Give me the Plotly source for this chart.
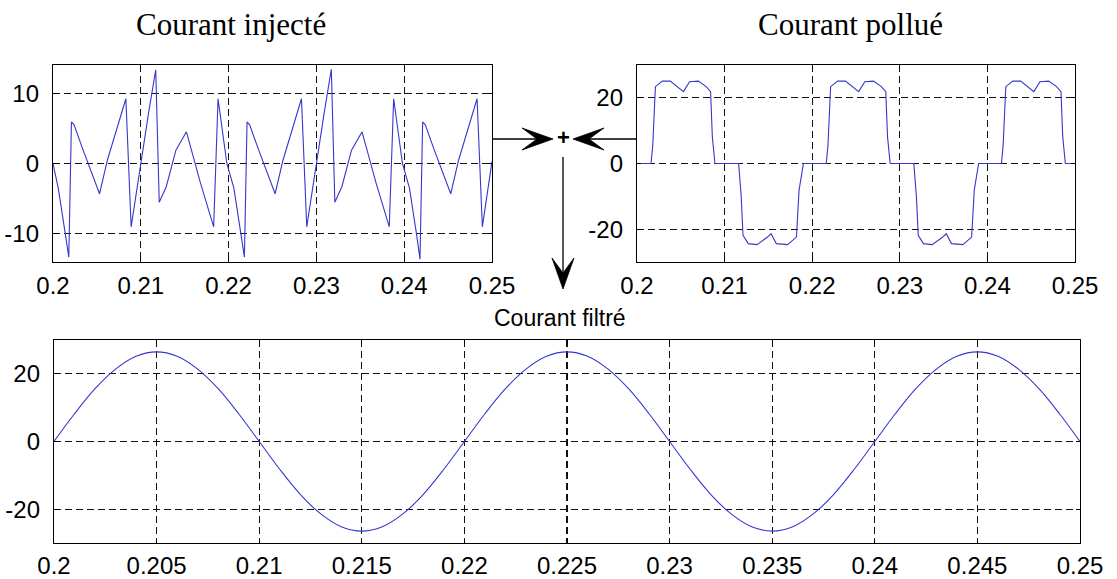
import plotly.graph_objects as go

W, H = 1117, 579

# ---------------- data ----------------
t_inj = [0.2000, 0.2006, 0.2014, 0.2018, 0.2021, 0.2024, 0.2034, 0.2053, 0.2062, 0.2083, 0.2089,
         0.2099, 0.2109, 0.2117, 0.2121, 0.2129, 0.2140, 0.2152, 0.2168, 0.2183, 0.2188, 0.2198,
         0.2206, 0.2214, 0.2218, 0.2221, 0.2224, 0.2234, 0.2253, 0.2262, 0.2283, 0.2289, 0.2299,
         0.2309, 0.2317, 0.2321, 0.2329, 0.2340, 0.2352, 0.2368, 0.2383, 0.2388, 0.2398,
         0.2406, 0.2414, 0.2418, 0.2421, 0.2424, 0.2434, 0.2453, 0.2462, 0.2483, 0.2489, 0.2499, 0.2500]
i_inj = [0.0, -3.5, -10.0, -13.3, 5.9, 5.5, 2.0, -4.3, 0.5, 9.2, -9.0,
         -0.5, 7.3, 13.3, -5.5, -3.3, 1.9, 4.5, -2.8, -9.0, 9.2, 0.0,
         -3.5, -10.0, -13.3, 5.9, 5.5, 2.0, -4.3, 0.5, 9.2, -9.0, -0.5,
         7.3, 13.4, -5.5, -3.3, 1.9, 4.5, -2.8, -9.0, 9.2, 0.0,
         -3.5, -10.0, -13.6, 5.9, 5.5, 2.0, -4.3, 0.5, 9.2, -9.0, -0.5, 0.3]

t_pol = [0.2000, 0.2016, 0.2018, 0.2021, 0.2029, 0.2038, 0.2053, 0.2060, 0.2070, 0.2079, 0.2084, 0.2086, 0.2089,
         0.2116, 0.2119, 0.2121, 0.2127, 0.2137, 0.2149, 0.2153, 0.2159, 0.2172, 0.2182, 0.2185, 0.2190,
         0.2216, 0.2218, 0.2221, 0.2229, 0.2238, 0.2253, 0.2260, 0.2270, 0.2279, 0.2284, 0.2286, 0.2289,
         0.2316, 0.2319, 0.2321, 0.2327, 0.2337, 0.2349, 0.2353, 0.2359, 0.2372, 0.2382, 0.2385, 0.2390,
         0.2416, 0.2418, 0.2421, 0.2429, 0.2438, 0.2453, 0.2460, 0.2470, 0.2479, 0.2484, 0.2486, 0.2489, 0.2500]
i_pol = [0, 0, 5.6, 23.4, 25.1, 25.1, 21.9, 24.9, 25.1, 23.4, 21.9, 8.1, 0,
         0, -10.2, -21.9, -24.4, -24.7, -22.4, -21.4, -24.4, -24.7, -22.4, -8.1, 0,
         0, 5.6, 23.4, 25.1, 25.1, 21.9, 24.9, 25.1, 23.4, 21.9, 8.1, 0,
         0, -10.2, -21.9, -24.4, -24.7, -22.4, -21.4, -24.4, -24.7, -22.4, -8.1, 0,
         0, 5.6, 23.4, 25.1, 25.1, 21.9, 24.9, 25.1, 23.4, 21.9, 8.1, 0, 0]

t_fil = [0.200, 0.201, 0.202, 0.203, 0.204, 0.205, 0.206, 0.207, 0.208, 0.209,
         0.210, 0.211, 0.212, 0.213, 0.214, 0.215, 0.216, 0.217, 0.218, 0.219,
         0.220, 0.221, 0.222, 0.223, 0.224, 0.225, 0.226, 0.227, 0.228, 0.229,
         0.230, 0.231, 0.232, 0.233, 0.234, 0.235, 0.236, 0.237, 0.238, 0.239,
         0.240, 0.241, 0.242, 0.243, 0.244, 0.245, 0.246, 0.247, 0.248, 0.249, 0.250]
i_fil = [0.0, 8.2, 15.6, 21.4, 25.2, 26.5, 25.2, 21.4, 15.6, 8.2,
         0.0, -8.2, -15.6, -21.4, -25.2, -26.5, -25.2, -21.4, -15.6, -8.2,
         0.0, 8.2, 15.6, 21.4, 25.2, 26.5, 25.2, 21.4, 15.6, 8.2,
         0.0, -8.2, -15.6, -21.4, -25.2, -26.5, -25.2, -21.4, -15.6, -8.2,
         0.0, 8.2, 15.6, 21.4, 25.2, 26.5, 25.2, 21.4, 15.6, 8.2, 0.0]

top_xticks = [0.2, 0.21, 0.22, 0.23, 0.24, 0.25]
top_xlabels = ["0.2", "0.21", "0.22", "0.23", "0.24", "0.25"]
bot_xticks = [0.2, 0.205, 0.21, 0.215, 0.22, 0.225, 0.23, 0.235, 0.24, 0.245, 0.25]
bot_xlabels = ["0.2", "0.205", "0.21", "0.215", "0.22", "0.225", "0.23", "0.235", "0.24", "0.245", "0.25"]
inj_yticks = [-10, 0, 10]
inj_ylabels = ["-10", "0", "10"]
pol_yticks = [-20, 0, 20]
pol_ylabels = ["-20", "0", "20"]
fil_yticks = [-20, 0, 20]
fil_ylabels = ["-20", "0", "20"]

titles = ["Courant injecté", "Courant pollué", "Courant filtré"]

# ---------------- styling ----------------
BLUE = "rgb(55,55,205)"
SANS = "Liberation Sans, Arial, sans-serif"
SERIF = "Liberation Serif, Times New Roman, serif"


def px(x):
    return x / W


def py(y):
    return 1 - y / H


fig = go.Figure()
fig.add_trace(go.Scatter(x=t_inj, y=i_inj, mode="lines", line=dict(color=BLUE, width=1.1),
                         xaxis="x", yaxis="y", showlegend=False, hoverinfo="skip"))
fig.add_trace(go.Scatter(x=t_pol, y=i_pol, mode="lines", line=dict(color=BLUE, width=1.1),
                         xaxis="x2", yaxis="y2", showlegend=False, hoverinfo="skip"))
fig.add_trace(go.Scatter(x=t_fil, y=i_fil, mode="lines", line=dict(color=BLUE, width=1.1, shape="spline"),
                         xaxis="x3", yaxis="y3", showlegend=False, hoverinfo="skip"))

ax_common = dict(showline=True, mirror="ticks", linecolor="black", linewidth=1.2,
                 showgrid=True, gridcolor="#111", griddash="7px,4px", gridwidth=1.1,
                 zeroline=False, ticks="inside", ticklen=4, tickcolor="black", automargin=False,
                 tickfont=dict(family=SANS, size=24, color="black"))

top_y0, top_y1 = py(262), py(65)
bot_y0, bot_y1 = py(543), py(340)

fig.update_layout(
    width=W, height=H, autosize=False,
    margin=dict(l=0, r=0, t=0, b=0, pad=0),
    paper_bgcolor="white", plot_bgcolor="white",
    xaxis=dict(domain=[px(53), px(492)], range=[0.2, 0.25], tickvals=top_xticks, ticktext=top_xlabels,
               anchor="y", ticklabelstandoff=2, **ax_common),
    yaxis=dict(domain=[top_y0, top_y1], range=[-14, 14], tickvals=inj_yticks, ticktext=inj_ylabels,
               anchor="x", ticklabelstandoff=8, **ax_common),
    xaxis2=dict(domain=[px(637), px(1075)], range=[0.2, 0.25], tickvals=top_xticks, ticktext=top_xlabels,
                anchor="y2", ticklabelstandoff=2, **ax_common),
    yaxis2=dict(domain=[top_y0, top_y1], range=[-30, 30], tickvals=pol_yticks, ticktext=pol_ylabels,
                anchor="x2", ticklabelstandoff=8, **ax_common),
    xaxis3=dict(domain=[px(54), px(1080)], range=[0.2, 0.25], tickvals=bot_xticks, ticktext=bot_xlabels,
                anchor="y3", ticklabelstandoff=1, **ax_common),
    yaxis3=dict(domain=[bot_y0, bot_y1], range=[-30, 30], tickvals=fil_yticks, ticktext=fil_ylabels,
                anchor="x3", ticklabelstandoff=8, **ax_common),
)

# titles
fig.add_annotation(x=px(231), y=py(24), xref="paper", yref="paper", text=titles[0], showarrow=False,
                   font=dict(family=SERIF, size=31, color="black"), xanchor="center", yanchor="middle")
fig.add_annotation(x=px(850), y=py(24), xref="paper", yref="paper", text=titles[1], showarrow=False,
                   font=dict(family=SERIF, size=31, color="black"), xanchor="center", yanchor="middle")
fig.add_annotation(x=px(560), y=py(318), xref="paper", yref="paper", text=titles[2], showarrow=False,
                   font=dict(family=SANS, size=23, color="black"), xanchor="center", yanchor="middle")
# summing junction
fig.add_annotation(x=px(563), y=py(138), xref="paper", yref="paper", text="<b>+</b>", showarrow=False,
                   font=dict(family=SANS, size=22, color="black"), xanchor="center", yanchor="middle")


def seg(x0, y0, x1, y1):
    fig.add_shape(type="line", xref="paper", yref="paper", x0=px(x0), y0=py(y0), x1=px(x1), y1=py(y1),
                  line=dict(color="black", width=1.3))


def head(pts):
    d = "M " + " L ".join(f"{px(a):.5f},{py(b):.5f}" for a, b in pts) + " Z"
    fig.add_shape(type="path", xref="paper", yref="paper", path=d,
                  fillcolor="black", line=dict(color="black", width=0.8))


# arrow from left plot to junction
seg(493, 139, 540, 139)
head([(553, 139), (522, 128), (537, 139), (522, 150)])
# arrow from right plot to junction
seg(637, 139, 588, 139)
head([(573, 139), (604, 128), (589, 139), (604, 150)])
# arrow down to filtered current
seg(563, 157, 563, 275)
head([(563, 289), (552, 258), (563, 273), (574, 258)])

fig.write_html(
    "out.html",
    config={"displayModeBar": False, "staticPlot": True},
    post_script="document.body.style.margin='0px';document.body.style.overflow='hidden';",
)
